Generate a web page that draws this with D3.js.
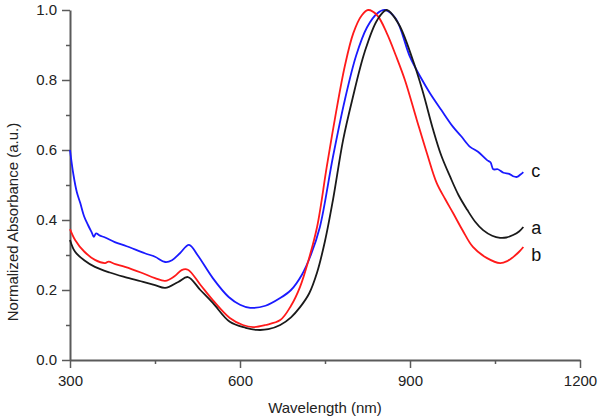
<!DOCTYPE html>
<html><head><meta charset="utf-8">
<script src="https://cdn.jsdelivr.net/npm/d3@7/dist/d3.min.js"></script>
<style>body{margin:0;background:#fff}svg{display:block}</style>
</head><body><svg id="c" width="600" height="419"></svg>
<script>
const xTicks = [300, 600, 900, 1200];
const xMinor = [450, 750, 1050];
const yTicks = [0.0, 0.2, 0.4, 0.6, 0.8, 1.0];
const yMinor = [0.1, 0.3, 0.5, 0.7, 0.9];

const wlA = [300,309,325,344,370,397,425,450,468,491,508,530,552,582,610,630,650,671,690,706,722,736,750,764,782,798,820,842,859,880,905,922,941,955,971,986,1001,1015,1029,1045,1059,1070,1082,1093,1100];
const valA = [0.343,0.309,0.285,0.266,0.25,0.237,0.225,0.214,0.206,0.223,0.237,0.2,0.163,0.109,0.092,0.086,0.088,0.1,0.122,0.151,0.19,0.25,0.34,0.457,0.629,0.743,0.88,0.971,1.0,0.96,0.857,0.77,0.657,0.585,0.523,0.47,0.429,0.395,0.371,0.355,0.349,0.35,0.357,0.368,0.38];

const wlB = [300,309,325,344,362,368,380,397,425,450,468,485,497,508,530,552,582,605,623,645,671,690,706,720,736,753,768,785,800,815,826,842,859,875,891,912,930,947,962,976,993,1011,1036,1059,1072,1082,1093,1100];
const valB = [0.374,0.343,0.31,0.286,0.277,0.281,0.274,0.266,0.25,0.234,0.226,0.24,0.257,0.258,0.215,0.171,0.12,0.1,0.094,0.1,0.114,0.155,0.209,0.28,0.38,0.551,0.694,0.84,0.934,0.985,1.0,0.985,0.934,0.87,0.8,0.686,0.59,0.506,0.46,0.42,0.37,0.323,0.291,0.277,0.283,0.294,0.31,0.323];

const wlC = [300,306,312,318,325,332,339,342,346,352,362,379,400,432,450,468,480,494,510,525,552,580,600,618,645,671,690,709,725,741,764,785,805,824,842,856,875,900,918,935,955,976,990,1006,1020,1036,1042,1047,1055,1065,1075,1082,1089,1095,1100];
const valC = [0.60,0.53,0.48,0.449,0.41,0.385,0.362,0.352,0.362,0.356,0.35,0.337,0.325,0.305,0.295,0.28,0.285,0.305,0.329,0.3,0.234,0.18,0.158,0.149,0.155,0.177,0.2,0.243,0.3,0.38,0.58,0.743,0.87,0.95,0.99,1.0,0.975,0.866,0.81,0.763,0.715,0.666,0.64,0.609,0.595,0.571,0.565,0.545,0.545,0.535,0.532,0.525,0.523,0.53,0.537];

const svg = d3.select('#c');
const x = d3.scaleLinear().domain([300, 1200]).range([70, 580]);
const y = d3.scaleLinear().domain([0, 1.0]).range([360, 10]);
const axisColor = '#5a5a5a';
const font = 'Arial, "Liberation Sans", sans-serif';

// axes
const gx = svg.append('g').attr('transform', 'translate(0,360)');
gx.call(d3.axisBottom(x).tickValues(xTicks).tickSize(8).tickSizeOuter(0).tickFormat(d3.format('d')));
const gxm = svg.append('g').attr('transform', 'translate(0,360)');
gxm.call(d3.axisBottom(x).tickValues(xMinor).tickSize(4).tickSizeOuter(0).tickFormat(''));
const gy = svg.append('g').attr('transform', 'translate(70,0)');
gy.call(d3.axisLeft(y).tickValues(yTicks).tickSize(8).tickSizeOuter(0).tickFormat(d3.format('.1f')));
const gym = svg.append('g').attr('transform', 'translate(70,0)');
gym.call(d3.axisLeft(y).tickValues(yMinor).tickSize(4).tickSizeOuter(0).tickFormat(''));

svg.selectAll('.domain').attr('stroke', axisColor).attr('stroke-width', 2);
svg.selectAll('.tick line').attr('stroke', axisColor).attr('stroke-width', 1.5);
gx.selectAll('.tick text').attr('font-family', font).attr('font-size', 15).attr('fill', '#222').attr('dy', '1.0em');
gy.selectAll('.tick text').attr('font-family', font).attr('font-size', 15).attr('fill', '#222').attr('x', -13);
gxm.selectAll('.domain').remove();
gym.selectAll('.domain').remove();

// curves
const line = d3.line().x(d => x(d[0])).y(d => y(d[1])).curve(d3.curveCatmullRom.alpha(0.5));
const series = [
  {wl: wlC, v: valC, color: '#1a1aff', label: 'c'},
  {wl: wlB, v: valB, color: '#ff1a1a', label: 'b'},
  {wl: wlA, v: valA, color: '#1a1a1a', label: 'a'}
];
series.forEach(s => {
  svg.append('path').datum(d3.zip(s.wl, s.v)).attr('d', line)
    .attr('fill', 'none').attr('stroke', s.color).attr('stroke-width', 1.8);
});

// curve labels
const labels = [['c', 1100, 0.537], ['a', 1100, 0.38], ['b', 1100, 0.323]];
labels.forEach(l => {
  svg.append('text').attr('x', x(l[1]) + 8).attr('y', y(l[2]) + (l[0]==='b' ? 14 : 5) + (l[0]==='a' ? 2 : 0))
    .attr('font-family', font).attr('font-size', 18).attr('fill', '#111').text(l[0]);
});

// axis titles
svg.append('text').attr('x', 325).attr('y', 413).attr('text-anchor', 'middle')
  .attr('font-family', font).attr('font-size', 15).attr('fill', '#222').text('Wavelength (nm)');
svg.append('text').attr('transform', 'translate(18,222) rotate(-90)').attr('text-anchor', 'middle')
  .attr('font-family', font).attr('font-size', 15).attr('fill', '#222').text('Normalized Absorbance (a.u.)');
</script></body></html>
